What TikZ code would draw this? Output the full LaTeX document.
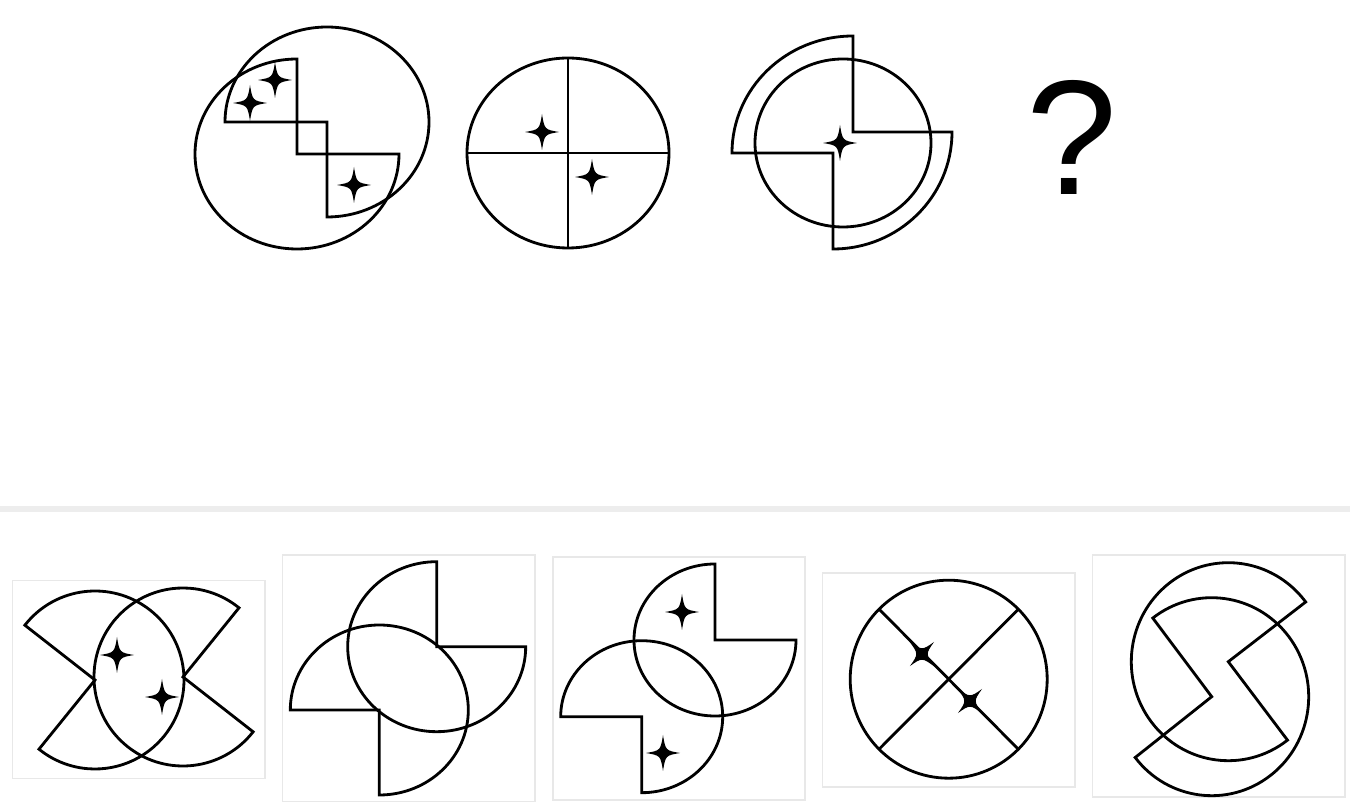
\documentclass[tikz,border=0pt]{standalone}
\usepackage{fontspec}
\setmainfont{Liberation Sans}

% centre x, centre y, x radius, y radius, start angle, end angle
\newcommand\pieshape[6]{%
  \draw (#1,#2) -- ([shift={(#1,#2)}]#5:#3 and #4)
    arc[start angle=#5, end angle=#6, x radius=#3, y radius=#4] -- cycle;}

\begin{document}
\begin{tikzpicture}[x=0.02cm, y=-0.02cm, line width=1.6pt,
    optbox/.style={draw=black!9, line width=0.8pt},
    sparkle/.pic={\fill (0,-18) .. controls (2.5,-2.5) .. (17,0) .. controls (2.5,2.5) .. (0,18)
                   .. controls (-2.5,2.5) .. (-17,0) .. controls (-2.5,-2.5) .. cycle;}]
  \useasboundingbox (0,0) rectangle (1350,810);

  % question row
  \pieshape{327}{122}{102}{95}{180}{450}
  \pieshape{297}{154}{102}{95}{0}{270}
  \pic at (250,103) {sparkle};
  \pic at (275,80) {sparkle};
  \pic at (354,185) {sparkle};

  \draw (568,153) ellipse [x radius=101, y radius=95];
  \draw (467,153) -- (669,153) (568,58) -- (568,248);
  \pic at (542,132) {sparkle};
  \pic at (592,177) {sparkle};

  \draw (732,153) arc[start angle=180, end angle=270, x radius=121, y radius=117]
    -- (853,132) -- (952,132) arc[start angle=0, end angle=90, x radius=119, y radius=117]
    -- (833,153) -- cycle;
  \draw (843,143) ellipse [x radius=88, y radius=84];
  \pic at (840,143) {sparkle};

  \node[anchor=base, inner sep=0pt, font=\fontsize{93}{93}\selectfont] (qmark) at (1071.5,195) {?};

  \draw[black!7, line width=3.4pt] (0,509) -- (1350,509);

  % answer options
  \draw[optbox] (12.5,580.5) rectangle (265,778.5);
  \pieshape{183}{677}{89}{89}{38}{309}
  \pieshape{95}{680}{89}{89}{218}{489}
  \pic at (117,655) {sparkle};
  \pic at (162,697) {sparkle};

  \draw[optbox] (282.5,555) rectangle (535,801.5);
  \pieshape{436.7}{646.7}{89}{85}{0}{270}
  \pieshape{379.3}{710}{89}{85}{180}{450}

  \draw[optbox] (553,557) rectangle (805,800);
  \pieshape{715}{640}{81}{76}{0}{270}
  \pieshape{641.7}{716.7}{81}{76}{180}{450}
  \pic at (682,612) {sparkle};
  \pic at (663,753) {sparkle};

  \draw[optbox] (822.5,573) rectangle (1075,787);
  \draw (948.7,679.2) circle [x radius=98.5, y radius=99];
  \draw (948.7,679.2) ++(225:98.5 and 99) -- ++(45:197 and 198)
        (948.7,679.2) ++(315:98.5 and 99) -- ++(135:197 and 198);
  \pic[rotate=45] at (922,654) {sparkle};
  \pic[rotate=45] at (970,701) {sparkle};

  \draw[optbox] (1092.5,555) rectangle (1345,797);
  \pieshape{1211.7}{696.7}{97}{99}{232.6}{502.1}
  \pieshape{1228.3}{661.7}{97}{99}{52.4}{322.9}
\end{tikzpicture}
\end{document}
